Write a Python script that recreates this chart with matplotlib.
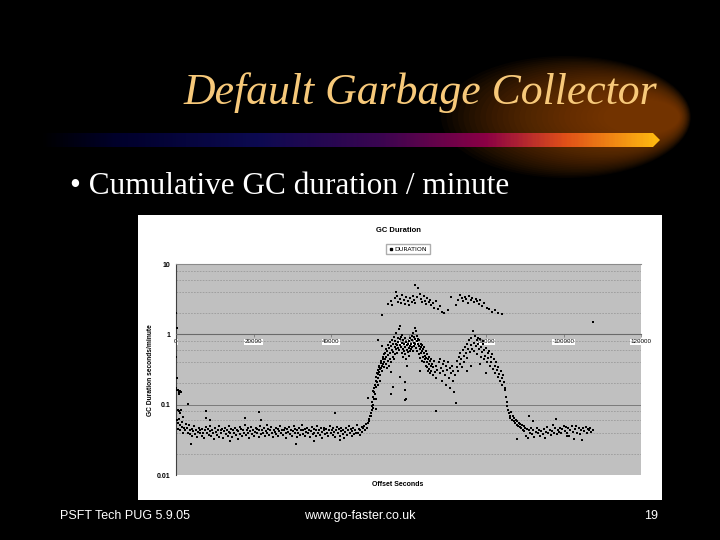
import numpy as np
import matplotlib
matplotlib.use("Agg")
import matplotlib.pyplot as plt
from matplotlib.patches import Rectangle, Ellipse, Polygon
from matplotlib.colors import LinearSegmentedColormap
from matplotlib.lines import Line2D

# GC duration (seconds/minute) against offset seconds
early = [(0, 2.0), (260, 1.23), (0, .47), (260, .24), (520, .16), (770, .15), (1030, .155),
         (1290, .15), (770, .14), (520, .085), (770, .08), (1030, .075), (1290, .085), (1810, .066),
         (260, .06), (520, .055), (770, .063), (1030, .052), (1550, .056), (2060, .046), (3100, .103),
         (2580, .053), (2320, .043), (1550, .048), (1810, .040), (260, .16), (0, .17), (520, .045),
         (1030, .044)]

baseline = [
    (2800, .047), (3000, .040), (3300, .052), (3500, .044), (3700, .038), (4000, .045), (4200, .036), (4500, .042),
    (4700, .049), (4900, .038), (5200, .044), (5400, .035), (5600, .041), (5900, .047), (6100, .039), (6300, .043),
    (6600, .036), (6800, .045), (7000, .040), (7300, .034), (7500, .043), (7700, .048), (8000, .039), (8200, .045),
    (8400, .037), (8700, .042), (8900, .050), (9100, .036), (9400, .044), (9600, .040), (9800, .033), (10100, .046),
    (10300, .041), (10500, .037), (10800, .044), (11000, .049), (11200, .035), (11500, .043), (11700, .039), (11900, .045),
    (12200, .034), (12400, .042), (12600, .047), (12900, .038), (13100, .044), (13300, .036), (13600, .041), (13800, .050),
    (14000, .039), (14300, .045), (14500, .035), (14700, .043), (15000, .040), (15200, .047), (15400, .037), (15700, .044),
    (15900, .033), (16100, .042), (16400, .048), (16600, .038), (16800, .045), (17100, .036), (17300, .043), (17500, .040),
    (17800, .051), (18000, .037), (18200, .044), (18500, .039), (18700, .046), (18900, .034), (19200, .042), (19400, .048),
    (19600, .038), (19900, .044), (20100, .036), (20300, .041), (20600, .047), (20800, .039), (21000, .045), (21300, .035),
    (21500, .043), (21700, .049), (22000, .038), (22200, .044), (22400, .040), (22700, .046), (22900, .036), (23100, .042),
    (23400, .052), (23600, .039), (23800, .045), (24100, .037), (24300, .043), (24500, .048), (24800, .040), (25000, .035),
    (25200, .044), (25500, .041), (25700, .047), (25900, .038), (26200, .045), (26400, .036), (26600, .042), (26900, .050),
    (27100, .039), (27300, .044), (27600, .037), (27800, .043), (28000, .047), (28300, .040), (28500, .034), (28700, .045),
    (29000, .041), (29200, .048), (29400, .038), (29700, .044), (29900, .036), (30100, .042), (30400, .049), (30600, .039),
    (30800, .045), (31100, .035), (31300, .043), (31500, .040), (31800, .046), (32000, .037), (32200, .044), (32500, .051),
    (32700, .038), (32900, .043), (33200, .036), (33400, .045), (33600, .041), (33900, .047), (34100, .039), (34300, .044),
    (34600, .035), (34800, .042), (35000, .048), (35300, .038), (35500, .045), (35700, .040), (36000, .036), (36200, .043),
    (36400, .049), (36700, .039), (36900, .044), (37100, .037), (37400, .046), (37600, .041), (37800, .034), (38100, .043),
    (38300, .047), (38500, .038), (38800, .045), (39000, .040), (39200, .036), (39500, .044), (39700, .050), (39900, .039),
    (40200, .043), (40400, .037), (40600, .046), (40900, .041), (41100, .035), (41300, .044), (41600, .048), (41800, .039),
    (42000, .045), (42300, .036), (42500, .042), (42700, .047), (43000, .038), (43200, .044), (43400, .034), (43700, .041),
    (43900, .046), (44100, .037), (44400, .043), (44600, .049), (44800, .039), (45100, .045), (45300, .036), (45500, .042),
    (45800, .047), (46000, .038), (46200, .044), (46500, .040), (46700, .052), (46900, .039), (47200, .045), (47400, .037),
    (47600, .043), (47900, .048), (48100, .041), (48300, .046), (48600, .050), (48800, .044), (49000, .053), (49300, .047),
    (3900, .028), (7800, .081), (7800, .064), (8800, .060), (14000, .030), (21300, .079), (30900, .028),
    (35600, .030), (41000, .076), (42300, .031), (49600, .124), (50800, .155), (17800, .064), (22000, .060)]

ramp = [(49500, .055), (49700, .062), (49900, .058), (50100, .068), (50200, .075), (50400, .070), (50500, .085),
        (50600, .095), (50700, .11), (50800, .10), (50900, .13), (51000, .12), (51100, .15), (51200, .17),
        (51300, .14), (51400, .19), (51500, .22), (51600, .18), (51700, .25), (51800, .21), (51900, .28),
        (52000, .24), (52100, .31), (52200, .27), (52300, .34), (52400, .29), (52500, .36), (52600, .32),
        (52700, .26), (52800, .39), (52900, .33), (53000, .42), (53100, .36), (53200, .30), (53300, .45),
        (53400, .38), (53500, .48), (53600, .34), (53700, .41), (53800, .52), (53900, .44), (52000, .19),
        (51500, .12), (50900, .09), (52700, .22), (51600, .086)]

hump1 = [
    (54000, .55), (54100, .38), (54200, .62), (54300, .47), (54400, .33), (54500, .58), (54600, .42), (54700, .70),
    (54800, .51), (54900, .36), (55000, .64), (55100, .45), (55200, .77), (55300, .55), (55400, .40), (55500, .68),
    (55600, .29), (55700, .60), (55800, .83), (55900, .48), (56000, .72), (56100, .57), (56200, .92), (56300, .44),
    (56400, .66), (56500, .80), (56600, .52), (56700, .74), (56800, .61), (56900, 1.05), (57000, .70), (57100, .55),
    (57200, .88), (57300, .64), (57400, .78), (57500, 1.2), (57600, .60), (57700, .85), (57800, .70), (57900, 1.3),
    (58000, .66), (58100, .92), (58200, .54), (58300, .76), (58400, .98), (58500, .62), (58600, .82), (58700, .48),
    (58800, .72), (58900, .58), (59000, .88), (59100, .66), (59200, .52), (59300, .78), (59400, .44), (59500, .70),
    (59600, .60), (59700, .36), (59800, .74), (59900, .56), (60000, .64), (60100, .50), (60200, .80), (60300, .68),
    (60400, .58), (60500, .88), (60600, .62), (60700, .74), (60800, .96), (60900, .66), (61000, .84), (61100, .58),
    (61200, 1.05), (61300, .76), (61400, .68), (61500, .92), (61600, 1.25), (61700, .72), (61800, .86), (61900, 1.1),
    (62000, .64), (62100, .80), (62200, .95), (62300, .58), (62400, .74), (62500, .86), (62600, .52), (62700, .68),
    (62800, .82), (62900, .46), (63000, .62), (63100, .74), (63200, .55), (63300, .66), (63400, .42), (63500, .58),
    (63600, .70), (63700, .48), (63800, .62), (63900, .40), (64000, .54), (64100, .66), (64200, .44), (64300, .50),
    (64400, .36), (64500, .46), (64600, .58), (64700, .40), (64800, .52), (64900, .34), (65000, .44), (65100, .30),
    (65200, .38), (65300, .48), (65400, .32), (65500, .42), (65600, .28), (65700, .36), (65800, .44), (65900, .30),
    (66000, .38), (66200, .26), (66400, .34), (66600, .42), (66800, .29), (67000, .36), (67200, .24), (67400, .31),
    (59000, .21), (59200, .16), (59400, .12), (59100, .115), (56000, .18), (55600, .14), (52000, .83),
    (53200, .68), (57800, .25), (67000, .08), (63000, .30)]

hump2 = [
    (67800, .40), (68000, .28), (68200, .45), (68400, .33), (68600, .22), (68800, .38), (69000, .30), (69200, .42),
    (69400, .26), (69600, .35), (69800, .19), (70000, .31), (70200, .40), (70400, .24), (70600, .33), (70800, .17),
    (71000, .28), (71200, .36), (71400, .22), (71600, .30), (71800, .15), (72000, .26), (72200, .105), (72400, .34),
    (72600, .42), (72800, .30), (73000, .48), (73200, .38), (73400, .55), (73600, .44), (73800, .34), (74000, .60),
    (74200, .50), (74400, .40), (74600, .66), (74800, .54), (75000, .74), (75200, .46), (75400, .62), (75600, .82),
    (75800, .56), (76000, .70), (76200, .90), (76400, .62), (76600, 1.1), (76800, .76), (77000, .58), (77200, .95),
    (77400, .68), (77600, .84), (77800, .52), (78000, .74), (78200, .62), (78400, .86), (78600, .48), (78800, .66),
    (79000, .56), (79200, .72), (79400, .44), (79600, .60), (79800, .50), (80000, .64), (80200, .40), (80400, .54),
    (80600, .46), (80800, .58), (81000, .36), (81200, .48), (81400, .40), (81600, .52), (81800, .32), (82000, .44),
    (82200, .36), (82400, .28), (82600, .40), (82800, .31), (83000, .25), (83200, .34), (83400, .27), (83600, .22),
    (83800, .30), (84000, .24), (84200, .19), (84400, .26), (84600, .21), (84800, .17), (75000, .30), (76000, .36),
    (78400, .38), (80000, .28), (79200, .80), (78000, .90)]

tail = [
    (85000, .16), (85200, .13), (85400, .11), (85500, .095), (85700, .085), (85900, .075), (86100, .070), (86300, .065),
    (86500, .078), (86700, .060), (86900, .068), (87100, .058), (87300, .064), (87500, .055), (87700, .061), (87900, .052),
    (88100, .058), (88300, .050), (88500, .055), (88700, .048), (88900, .053), (89100, .046), (89300, .051), (89500, .044),
    (89700, .049), (89900, .042), (90100, .047), (90300, .036), (90500, .045), (90800, .034), (91000, .043), (91300, .040),
    (91600, .046), (91900, .038), (92200, .043), (92500, .035), (92800, .041), (93100, .047), (93400, .039), (93700, .044),
    (94000, .036), (94300, .042), (94600, .038), (94900, .045), (95200, .034), (95500, .041), (95800, .048), (96100, .039),
    (96400, .044), (96700, .037), (97000, .042), (97300, .052), (97600, .040), (97900, .046), (98200, .038), (98500, .044),
    (98800, .041), (99100, .047), (99400, .039), (99700, .045), (100000, .050), (100300, .042), (100600, .048), (100900, .040),
    (101200, .046), (101500, .036), (101800, .044), (102100, .050), (102400, .041), (102700, .033), (103000, .045), (103300, .049),
    (103600, .040), (103900, .046), (104200, .038), (104500, .044), (104800, .031), (105100, .047), (105400, .042), (105700, .048),
    (106000, .040), (106300, .045), (106600, .043), (106900, .047), (107200, .041), (107500, .044), (91000, .068), (92000, .058),
    (88000, .032), (98000, .062), (101000, .036)]

high = [
    (53200, 1.9), (54800, 2.7), (55400, 3.0), (55800, 2.6), (56400, 3.3), (56700, 4.0), (57000, 3.5), (57300, 2.9),
    (57700, 3.2), (58000, 2.8), (58400, 3.6), (58800, 3.1), (59100, 2.7), (59400, 3.4), (59800, 3.0), (60100, 2.6),
    (60500, 3.3), (60800, 2.9), (61100, 3.5), (61400, 3.1), (61600, 5.0), (61800, 2.8), (62100, 3.4), (62400, 4.6),
    (63000, 3.8), (63300, 3.2), (63600, 2.9), (63900, 3.5), (64200, 3.0), (64500, 2.7), (64900, 3.3), (65200, 2.9),
    (65500, 3.1), (65900, 2.6), (66200, 2.8), (66600, 2.4), (67000, 3.0), (67500, 2.3), (68000, 2.5), (68600, 2.1),
    (69100, 2.0), (70200, 2.2), (71000, 3.4), (72200, 2.6), (72800, 3.1), (73300, 3.6), (73700, 3.3), (74100, 3.0),
    (74500, 3.4), (74900, 3.2), (75300, 2.8), (75700, 3.5), (76100, 3.1), (76500, 3.3), (76900, 2.9), (77300, 3.2),
    (77700, 3.0), (78100, 2.7), (78500, 3.1), (79000, 2.5), (79600, 2.8), (80200, 2.4), (80900, 2.3), (81600, 2.1),
    (82300, 2.2), (83200, 2.0), (84000, 1.95), (107600, 1.5)]

x_ticks = [0, 20000, 40000, 60000, 80000, 100000, 120000]
y_ticks = [0.01, 0.1, 1, 10]
y_ticklabels = ["0.01", "0.1", "1", "10"]

pts = np.array(early + baseline + ramp + hump1 + hump2 + tail + high)

fig = plt.figure(figsize=(7.2, 5.4), dpi=100)
fig.patch.set_facecolor("black")

# slide background layer in pixel coordinates
bg = fig.add_axes([0, 0, 1, 1])
bg.set_xlim(0, 720)
bg.set_ylim(540, 0)
bg.axis("off")
bg.set_facecolor("black")

# orange glow swoosh, built from many faint layers
for i in range(30):
    bg.add_patch(Ellipse((566 + 2.6 * i, 117), 250 - 6 * i, 122 - 3 * i,
                         color="#a85200", alpha=0.045, lw=0))

# gradient bar with pointed tip
cmap = LinearSegmentedColormap.from_list("bar", [
    (0.0, "#000000"), (0.12, "#00002a"), (0.35, "#0c0a50"), (0.55, "#3a0550"),
    (0.72, "#8a0045"), (0.85, "#e05018"), (1.0, "#ffbb10")])
grad = np.linspace(0, 1, 400).reshape(1, -1)
im = bg.imshow(grad, cmap=cmap, extent=(40, 660, 147, 133), aspect="auto", zorder=3)
tip = Polygon([(40, 133), (653, 133), (660, 140), (653, 147), (40, 147)], closed=True,
              transform=bg.transData, facecolor="none", edgecolor="none")
bg.add_patch(tip)
im.set_clip_path(tip)
bg.set_xlim(0, 720)
bg.set_ylim(540, 0)

bg.text(420, 93, "Default Garbage Collector", family="Liberation Serif", style="italic",
        size=31.5, color="#F7C97A", ha="center", va="center", zorder=5)
bg.text(70, 187, "\u2022 Cumulative GC duration / minute", family="Liberation Serif",
        size=22.5, color="white", ha="left", va="center")

for x, s, ha in [(60, "PSFT Tech PUG 5.9.05", "left"), (360, "www.go-faster.co.uk", "center"),
                 (658, "19", "right")]:
    bg.text(x, 516, s, family="Liberation Sans", size=9, color="white", ha=ha, va="center")

# embedded chart card
bg.add_patch(Rectangle((138, 215), 524, 285, facecolor="white", edgecolor="none"))
bg.text(398, 231, "GC Duration", family="Liberation Sans", weight="bold", size=5.5,
        ha="center", va="center")
bg.text(398, 485, "Offset Seconds", family="Liberation Sans", weight="bold", size=5,
        ha="center", va="center")
bg.text(151, 370, "GC Duration seconds/minute", family="Liberation Sans", weight="bold",
        size=4.8, ha="center", va="center", rotation=90)

ax = fig.add_axes([176 / 720, 1 - 475 / 540, 465 / 720, 211 / 540])
ax.set_facecolor("#C0C0C0")
ax.set_yscale("log")
ax.set_xlim(0, 120000)
ax.set_ylim(0.01, 10)

ax.scatter(pts[:, 0], pts[:, 1], s=3, marker="s", c="black", linewidths=0,
           label="DURATION", zorder=3)

ax.set_yticks(y_ticks)
ax.set_yticklabels(y_ticklabels)
ax.yaxis.set_minor_locator(matplotlib.ticker.LogLocator(base=10, subs=(2, 4, 6, 8)))
ax.yaxis.set_minor_formatter(matplotlib.ticker.NullFormatter())
ax.grid(True, axis="y", which="major", color="#7a7a7a", lw=0.7)
ax.grid(True, axis="y", which="minor", color="#9a9a9a", lw=0.6, ls=(0, (2, 1.5)))
ax.tick_params(axis="y", which="both", length=0, labelsize=5, pad=4)
for lab in ax.get_yticklabels():
    lab.set_fontweight("bold")
    lab.set_family("Liberation Sans")

# x axis crosses at 1, as in the spreadsheet chart
ax.spines["bottom"].set_position(("data", 1))
ax.spines["bottom"].set_color("#6a6a6a")
ax.spines["left"].set_color("#404040")
ax.spines["top"].set_color("#8a8a8a")
ax.spines["right"].set_visible(False)
ax.set_xticks(x_ticks)
ax.set_xticklabels([str(t) for t in x_ticks])
ax.tick_params(axis="x", length=2, width=0.5, color="#6a6a6a", labelsize=4.5, pad=1.5)
for lab in ax.get_xticklabels():
    lab.set_family("Liberation Sans")
    lab.set_bbox(dict(facecolor="white", edgecolor="none", pad=0.4))

handle = Line2D([], [], ls="none", marker="s", ms=1.6, color="black")
fig.legend([handle], ["DURATION"], loc="center", bbox_to_anchor=(408 / 720, 1 - 249 / 540),
           fontsize=4.5, frameon=True, fancybox=False, edgecolor="#999999",
           handlelength=0.6, handletextpad=0.3, borderpad=0.4, borderaxespad=0)

fig.savefig("out.png", dpi=100, facecolor="black")
